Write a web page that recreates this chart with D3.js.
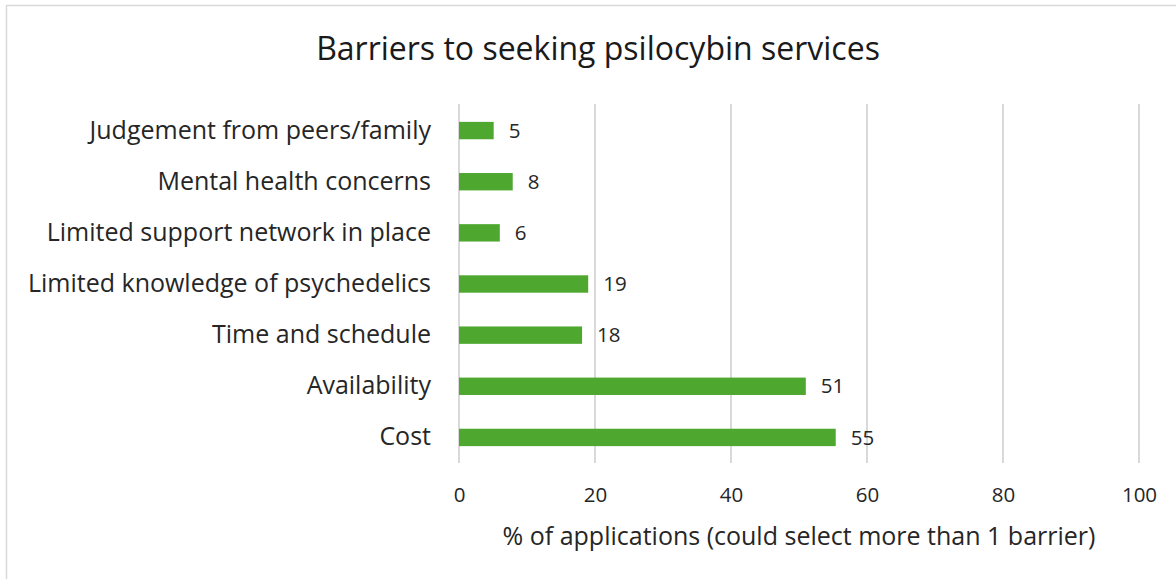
<!DOCTYPE html>
<html>
<head>
<meta charset="utf-8">
<script src="https://cdn.jsdelivr.net/npm/d3@7"></script>
<style>
  body { margin: 0; background: #fff; }
  svg { display: block; font-family: "Open Sans", sans-serif; }
</style>
</head>
<body>
<script>
var categories = [
    "Judgement from peers/family",
    "Mental health concerns",
    "Limited support network in place",
    "Limited knowledge of psychedelics",
    "Time and schedule",
    "Availability",
    "Cost"
];
var values = [5.1, 7.9, 6.0, 19.0, 18.1, 51.0, 55.4];
var xTicks = [0, 20, 40, 60, 80, 100];

var width = 1176, height = 579;
var margin = {top: 105, left: 459, right: 37, bottom: 116};

var svg = d3.select('body')
            .append('svg')
            .attr('width', width)
            .attr('height', height);

// chart frame
svg.append('rect')
    .attr('x', 6.5).attr('y', 5.5)
    .attr('width', width + 20).attr('height', height + 20)
    .attr('fill', 'none')
    .attr('stroke', '#d9d9d9')
    .attr('stroke-width', 1.5);

var x = d3.scaleLinear()
    .domain([0, 100])
    .range([margin.left, width - margin.right]);

var y = d3.scaleBand()
    .domain(categories)
    .range([margin.top, height - margin.bottom])
    .paddingInner(0.66)
    .paddingOuter(0.33);

// gridlines
svg.append('g')
    .selectAll('line')
    .data(xTicks)
    .enter()
    .append('line')
    .attr('x1', function (d) { return x(d); })
    .attr('x2', function (d) { return x(d); })
    .attr('y1', margin.top - 1)
    .attr('y2', height - margin.bottom)
    .attr('stroke', '#d9d9d9')
    .attr('stroke-width', 2);

// x axis labels
var xAxis = d3.axisBottom(x).tickValues(xTicks).tickSize(0).tickPadding(0);
var gx = svg.append('g')
    .attr('transform', 'translate(0,' + (height - margin.bottom + 24) + ')')
    .call(xAxis);
gx.select('.domain').remove();
gx.selectAll('text')
    .attr('dy', '0.71em')
    .attr('font-size', 20.5)
    .attr('font-family', '"Open Sans", sans-serif')
    .attr('fill', '#262626');

// y axis labels
var yAxis = d3.axisLeft(y).tickSize(0).tickPadding(28);
var gy = svg.append('g')
    .attr('transform', 'translate(' + margin.left + ',0)')
    .call(yAxis);
gy.select('.domain').remove();
gy.selectAll('text')
    .attr('font-size', 25)
    .attr('font-family', '"Open Sans", sans-serif')
    .attr('fill', '#262626');

// bars
svg.append('g')
    .selectAll('rect')
    .data(values)
    .enter()
    .append('rect')
    .attr('x', x(0))
    .attr('y', function (d, i) { return y(categories[i]); })
    .attr('width', function (d) { return x(d) - x(0); })
    .attr('height', y.bandwidth())
    .attr('fill', '#4ea72e');

// value labels
svg.append('g')
    .selectAll('text')
    .data(values)
    .enter()
    .append('text')
    .attr('x', function (d) { return x(d) + 15; })
    .attr('y', function (d, i) { return y(categories[i]) + y.bandwidth() / 2; })
    .attr('dy', '0.35em')
    .attr('font-size', 20.5)
    .attr('fill', '#262626')
    .text(function (d) { return d3.format('.0f')(d); });

// title
svg.append('text')
    .attr('x', 598)
    .attr('y', 60)
    .attr('text-anchor', 'middle')
    .attr('font-size', 32)
    .attr('fill', '#1a1a1a')
    .text('Barriers to seeking psilocybin services');

// x axis title
svg.append('text')
    .attr('x', 799)
    .attr('y', 545)
    .attr('text-anchor', 'middle')
    .attr('font-size', 25)
    .attr('fill', '#262626')
    .text('% of applications (could select more than 1 barrier)');
</script>
</body>
</html>
